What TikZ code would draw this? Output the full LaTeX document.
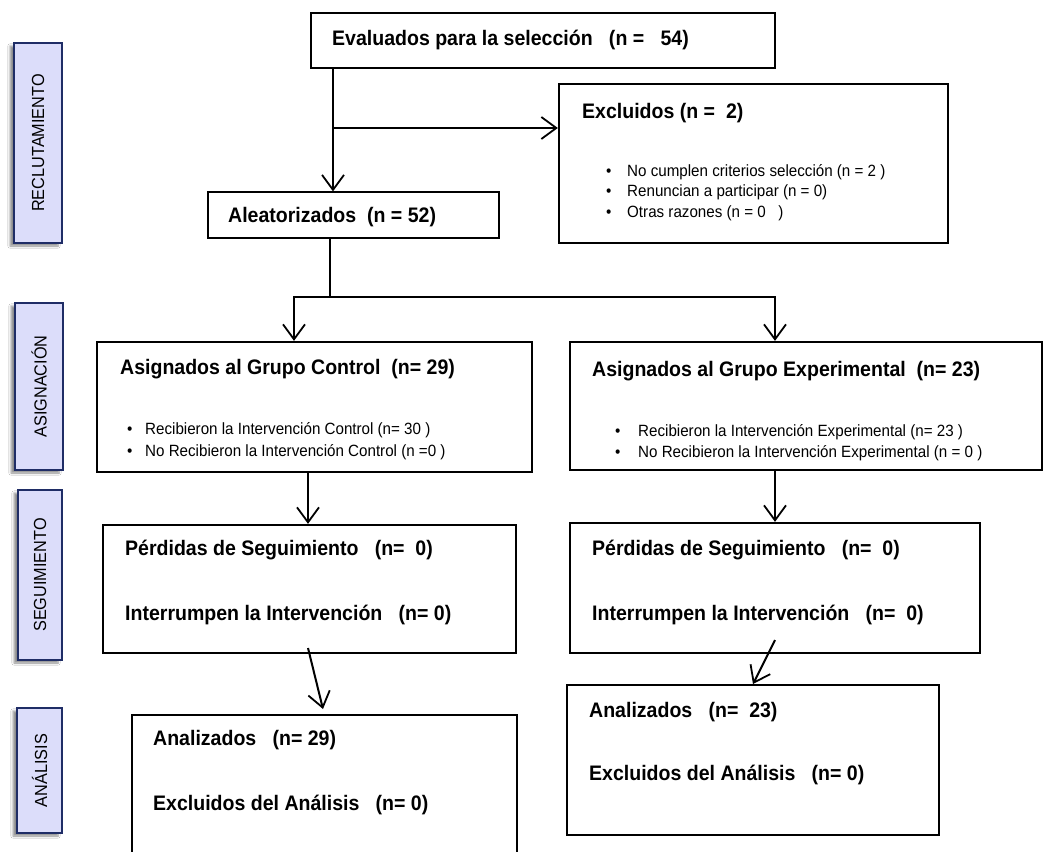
\documentclass[tikz,border=0pt]{standalone}
\usepackage{fontspec}
\setmainfont{Liberation Sans}[FakeStretch=0.93]
\usetikzlibrary{arrows.meta,shadows.blur,calc}
\definecolor{sidefill}{HTML}{DCDDFA}
\definecolor{sidedraw}{HTML}{1F2D66}
\newcommand{\tbf}{\fontsize{21}{25}\selectfont\bfseries}
\newcommand{\trg}{\fontsize{16.3}{20}\selectfont}
\newcommand{\tsd}{\fontsize{17.5}{20}\selectfont}
\begin{document}
\begin{tikzpicture}[x=1pt,y=-1pt,
  box/.style={draw=black, line width=2.3pt, fill=white, inner sep=0pt},
  thinbox/.style={draw=black, line width=1.2pt, fill=white, inner sep=0pt},
  side/.style={draw=sidedraw, line width=1.4pt, fill=sidefill, inner sep=0pt,
     blur shadow={shadow xshift=-4pt, shadow yshift=-3pt, shadow blur steps=6, shadow opacity=45}},
  sidetext/.style={rotate=90, font=\tsd, inner sep=0pt},
  title/.style={anchor=west, font=\tbf, inner sep=0pt},
  bul/.style={anchor=west, font=\trg, inner sep=0pt},
  conn/.style={line width=2pt},
  arr/.style={line width=2pt, -{Straight Barb[length=15pt,width=22pt,line width=1.8pt]}}]
\useasboundingbox (0,0) rectangle (1045,852);
\clip (0,0) rectangle (1045,852);
\fill[white] (0,0) rectangle (1045,852);

% side labels
\node[side, minimum width=48pt, minimum height=200pt] (rec) at (38,143) {};
\node[sidetext] at (rec.center) {RECLUTAMIENTO};
\node[side, minimum width=48pt, minimum height=167pt] (asig) at (39,386.5) {};
\node[sidetext] at (asig.center) {ASIGNACIÓN};
\node[side, minimum width=44pt, minimum height=170pt] (seg) at (40,575) {};
\node[sidetext] at (seg.center) {SEGUIMIENTO};
\node[side, minimum width=45pt, minimum height=125pt] (ana) at (39.5,770.5) {};
\node[sidetext] at (ana.center) {ANÁLISIS};

% boxes
\node[box, line width=1.7pt, minimum width=464pt, minimum height=55pt] (top) at (543,40.5) {};
\node[box, minimum width=389pt, minimum height=159pt] (excl) at (753.5,163.5) {};
\node[thinbox, minimum width=291pt, minimum height=46pt] (alea) at (353.5,215) {};
\node[box, minimum width=435pt, minimum height=130pt] (ctrl) at (314.5,407) {};
\node[box, minimum width=472pt, minimum height=128pt] (expe) at (806,406) {};
\node[box, minimum width=413pt, minimum height=128pt] (segc) at (309.5,589) {};
\node[box, minimum width=410pt, minimum height=130pt] (sege) at (775,588) {};
\node[box, minimum width=385pt, minimum height=165pt] (anac) at (324.5,797.5) {};
\node[box, minimum width=372pt, minimum height=150pt] (anae) at (753,760) {};

% texts
\node[title] (t1) at (332,40) {Evaluados para la selección~~~(n =~~~54)};
\node[title] (t2) at (582,113) {Excluidos (n =~~2)};
\node[bul] (b1) at (606,172) {\makebox[21pt][l]{•}No cumplen criterios selección (n = 2 )};
\node[bul] (b2) at (606,192) {\makebox[21pt][l]{•}Renuncian a participar (n = 0)};
\node[bul] (b3) at (606,213) {\makebox[21pt][l]{•}Otras razones (n = 0~~~)};
\node[title] (t3) at (228,217) {Aleatorizados~~(n = 52)};
\node[title] (t4) at (120,369) {Asignados al Grupo Control~~(n= 29)};
\node[bul] (b4) at (127,430) {\makebox[18pt][l]{•}Recibieron la Intervención Control (n= 30 )};
\node[bul] (b5) at (127,452) {\makebox[18pt][l]{•}No Recibieron la Intervención Control (n =0 )};
\node[title] (t5) at (592,371) {Asignados al Grupo Experimental~~(n= 23)};
\node[bul] (b6) at (615,432) {\makebox[23pt][l]{•}Recibieron la Intervención Experimental (n= 23 )};
\node[bul] (b7) at (615,453) {\makebox[23pt][l]{•}No Recibieron la Intervención Experimental (n = 0 )};
\node[title] (t6) at (125,550) {Pérdidas de Seguimiento~~~(n=~~0)};
\node[title] (t7) at (125,615) {Interrumpen la Intervención~~~(n= 0)};
\node[title] (t8) at (592,550) {Pérdidas de Seguimiento~~~(n=~~0)};
\node[title] (t9) at (592,615) {Interrumpen la Intervención~~~(n=~~0)};
\node[title] (t10) at (153,740) {Analizados~~~(n= 29)};
\node[title] (t11) at (153,805) {Excluidos del Análisis~~~(n= 0)};
\node[title] (t12) at (589,712) {Analizados~~~(n=~~23)};
\node[title] (t13) at (589,775) {Excluidos del Análisis~~~(n= 0)};

% connectors
\coordinate (xa) at (333,0);
\coordinate (br) at (333,128);
\draw[arr] (xa |- top.south) -- (xa |- alea.north);
\draw[arr] (br) -- (br -| excl.west);

\coordinate (sp) at (330,297);
\coordinate (cl) at (294,297);
\coordinate (cr) at (775,297);
\draw[conn] (sp |- alea.south) -- (sp);
\draw[arr] (sp) -- (cl) -- (cl |- ctrl.north);
\draw[arr] (sp) -- (cr) -- (cr |- expe.north);

\coordinate (xc) at (308,0);
\draw[arr] (xc |- ctrl.south) -- (xc |- segc.north);
\coordinate (xe) at (775,0);
\draw[arr] (xe |- expe.south) -- (xe |- sege.north);

\coordinate (s1) at (308,648);
\coordinate (e1) at (323,709);
\draw[arr] (s1) -- (e1);
\coordinate (s2) at (775,640);
\coordinate (e2) at (753,684);
\draw[arr] (s2) -- (e2);
\end{tikzpicture}
\end{document}
